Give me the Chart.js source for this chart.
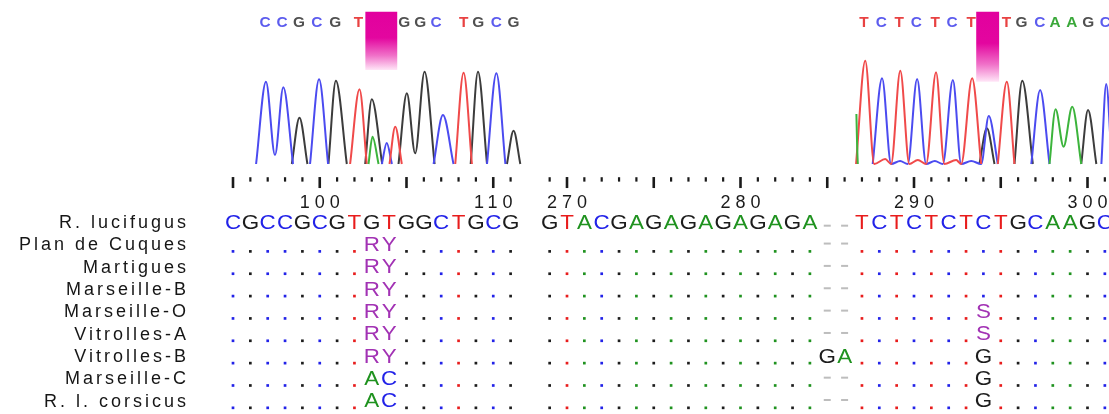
<!DOCTYPE html>
<html><head><meta charset="utf-8">
<script src="https://cdn.jsdelivr.net/npm/chart.js@4.4.1/dist/chart.umd.min.js"></script>
<style>html,body{margin:0;padding:0;background:#fff;overflow:hidden}canvas{display:block}</style>
</head><body>
<canvas id="c" width="1109" height="414"></canvas>
<script>
// ---------------- DATA ----------------
const rowNames = ['R. lucifugus','Plan de Cuques','Martigues','Marseille-B','Marseille-O','Vitrolles-A','Vitrolles-B','Marseille-C','R. l. corsicus'];

const leftStart = 95;
const leftRef = 'CGCCGCGTGTGGCTGCG';
const leftRows = [
  '........RY.......',
  '........RY.......',
  '........RY.......',
  '........RY.......',
  '........RY.......',
  '........RY.......',
  '........AC.......',
  '........AC.......'
];
const rightStart = 269;
const rightRef = 'GTACGAGAGAGAGAGA--TCTCTCTCTGCAAGC';
const rightRows = [
  '................--...............',
  '................--...............',
  '................--...............',
  '................--.......S.......',
  '................--.......S.......',
  '................GA.......G.......',
  '................--.......G.......',
  '................--.......G.......'
];
const leftRulerRange = [95, 111];
const rightRulerRange = [269, 301];
const leftRulerLabels = [100, 110];
const rightRulerLabels = [270, 280, 290, 300];

// chromatogram base calls (position, base)
const leftCalls = [[96.85,'C'],[97.83,'C'],[98.80,'G'],[99.83,'C'],[100.89,'G'],[102.23,'T'],[104.87,'G'],[105.79,'G'],[106.71,'C'],[108.29,'T'],[109.14,'G'],[110.18,'C'],[111.16,'G']];
const rightCalls = [[287.12,'T'],[288.11,'C'],[289.15,'T'],[290.13,'C'],[291.22,'T'],[292.20,'C'],[293.29,'T'],[295.33,'T'],[296.20,'G'],[297.25,'C'],[298.13,'A'],[299.09,'A'],[300.04,'G'],[301.03,'C']];

// chromatogram traces: [position, intensity]; null = break
const leftTraceC = [[96.33,0],[96.90,823],[97.42,90],[97.90,767],[98.46,0],[98.5,null],
  [99.44,0],[99.96,847],[100.48,0],[100.5,null],
  [103.58,0],[103.86,210],[104.16,0],[104.2,null],
  [106.56,0],[107.10,490],[107.71,0],[107.75,null],
  [109.64,0],[110.18,907],[110.70,0]];
const leftTraceG = [[98.39,0],[98.83,463],[99.29,0],[99.3,null],
  [100.50,0],[100.93,833],[101.56,0],[101.6,null],
  [102.62,0],[103.00,647],[103.60,0],[103.62,null],
  [104.54,0],[105.02,707],[105.50,107],[106.04,923],[106.62,0],[106.65,null],
  [108.70,0],[109.12,923],[109.64,0],[109.7,null],
  [110.79,0],[111.17,333],[111.56,0]];
const leftTraceT = [[101.75,0],[102.29,747],[102.71,0],[102.75,null],
  [104.02,0],[104.35,373],[104.73,0],[104.75,null],
  [107.81,0],[108.29,913],[108.77,0]];
const leftTraceA = [[102.81,0],[103.04,273],[103.39,0]];

const rightTraceT = [[286.66,0],[287.19,1033],[287.71,0],[288.34,50],[288.68,0],[289.21,933],[289.73,0],
  [290.22,40],[290.70,0],[291.27,917],[291.75,0],[292.43,40],[292.72,0],[293.35,857],[293.87,0],[293.9,null],
  [294.83,0],[295.35,823],[295.79,0]];
const rightTraceC = [[287.62,0],[288.16,857],[288.68,0],[289.20,30],[289.64,0],[290.18,850],[290.70,0],
  [291.20,30],[291.66,0],[292.24,840],[292.72,0],[293.30,30],[293.87,0],[294.31,480],[294.83,0],[294.9,null],
  [296.76,0],[297.27,740],[297.81,0],[297.9,null],
  [300.80,0],[301.08,800],[301.4,0]];
const rightTraceG = [[293.77,0],[294.20,357],[294.64,0],[294.7,null],
  [295.79,0],[296.24,833],[296.85,0],[296.9,null],
  [299.64,0],[300.03,540],[300.51,0]];
const rightTraceA = [[286.68,500],[286.72,200],[286.76,0],[286.8,null],
  [297.81,0],[298.16,547],[298.62,173],[299.12,573],[299.64,0]];

// highlighted heterozygous sites: [xFrom, xTo, yBottom, yTop]
const leftBox = [102.62, 104.48, 940, 1523];
const rightBox = [293.58, 294.92, 823, 1523];
const callLevel = 1410;

// ---------------- STYLE / LAYOUT ----------------
const W = 1109, H = 414, NAME_W = 200;
const COL = 17.35;
const AREA_W = W - NAME_W;
const xLmin = 95 - (233 - NAME_W) / COL;
const xRmin = 270 - (567 - NAME_W) / COL;
const ROW_PX = 22.35, ROW0_PX = 223;
const rowMin = -ROW0_PX / ROW_PX, rowMax = rowMin + H / ROW_PX;
const RULER_MAJOR_Y = -1.81, RULER_MINOR_Y = -1.95, RULER_LABEL_Y = -0.9;
const DOT_DY = 0.27, DASH_DY = -0.08, REF_DASH_DY = 0.12;
const STRETCH = 1.12;

const SANS = '"Liberation Sans", Arial, sans-serif';
const seqColor = {A:'#1f921f', C:'#2222e8', G:'#1c1c1c', T:'#e81c1c', R:'#a232b4', Y:'#a232b4', S:'#a232b4'};
const traceColor = {A:'#3cb43c', C:'#4b4bf0', G:'#3c3c3c', T:'#f04a4a'};
const callColor = {A:'#3aa83a', C:'#5c5cee', G:'#505050', T:'#e84242'};

const pts = arr => arr.map(([x, y]) => ({x, y}));

// dots / dashes / variant letters from alignment rows
const dotsL = [], dotsR = [], dashR = [], varL = [], varR = [];
leftRows.forEach((row, r) => [...row].forEach((ch, i) => {
  const x = leftStart + i, y = r + 1;
  if (ch === '.') dotsL.push({x, y: y + DOT_DY, b: leftRef[i]});
  else varL.push({x, y, b: ch});
}));
rightRows.forEach((row, r) => [...row].forEach((ch, i) => {
  const x = rightStart + i, y = r + 1;
  if (ch === '.') dotsR.push({x, y: y + DOT_DY, b: rightRef[i]});
  else if (ch === '-') dashR.push({x, y: y + DASH_DY});
  else varR.push({x, y, b: ch});
}));
[...rightRef].forEach((ch, i) => { if (ch === '-') dashR.push({x: rightStart + i, y: REF_DASH_DY}); });

function ruler(range) {
  const maj = [], min = [];
  for (let p = range[0]; p <= range[1]; p++) (p % 5 === 0 ? maj : min).push({x: p, y: p % 5 === 0 ? RULER_MAJOR_Y : RULER_MINOR_Y});
  return [maj, min];
}
const [rulLmaj, rulLmin] = ruler(leftRulerRange);
const [rulRmaj, rulRmin] = ruler(rightRulerRange);

function traceDs(data, base, xAxisID) {
  return {data: pts(data), xAxisID, yAxisID: 'ySig', showLine: true, borderColor: traceColor[base],
    borderWidth: 2, pointRadius: 0, cubicInterpolationMode: 'monotone', spanGaps: false, fill: false};
}
function boxDs(box, xAxisID) {
  const [x0, x1, yb, yt] = box;
  return {data: [{x: x0, y: yt}, {x: x1, y: yt}], xAxisID, yAxisID: 'ySig', showLine: true,
    borderWidth: 0, pointRadius: 0, fill: {value: yb}, order: 10,
    backgroundColor: (c) => {
      const ch = c.chart; if (!ch.chartArea) return '#e000a0';
      const s = ch.scales.ySig; const t = s.getPixelForValue(yt), b = s.getPixelForValue(yb);
      const g = ch.ctx.createLinearGradient(0, t, 0, b);
      g.addColorStop(0, '#e2009e'); g.addColorStop(0.45, '#e3069f'); g.addColorStop(0.75, '#f070c8'); g.addColorStop(1, '#ffe6f7');
      return g;
    }};
}
function tickDs(data, xAxisID, r, w) {
  return {data, xAxisID, yAxisID: 'yRow', pointStyle: 'line', rotation: 90, pointRadius: r,
    borderWidth: w, borderColor: '#1a1a1a', backgroundColor: '#1a1a1a'};
}
function dotDs(data, xAxisID) {
  return {data, xAxisID, yAxisID: 'yRow', pointStyle: 'rect', pointRadius: 1.9, borderWidth: 0,
    backgroundColor: c => seqColor[c.raw && c.raw.b] || '#000'};
}

function wideText(ctx, s, x, y, sx) {
  ctx.save(); ctx.translate(x, y); ctx.scale(sx, 1); ctx.fillText(s, 0, 0); ctx.restore();
}

const textPlugin = {
  id: 'seqText',
  beforeDraw(chart) { chart.ctx.letterSpacing = '3px'; },
  beforeDatasetsDraw(chart) { chart.ctx.letterSpacing = '0px'; },
  afterDatasetsDraw(chart) {
    const {ctx, scales} = chart;
    const {xL, xR, yRow, ySig} = scales;
    ctx.save();
    ctx.textAlign = 'center'; ctx.textBaseline = 'middle';
    // ruler numbers
    ctx.font = '18px ' + SANS; ctx.letterSpacing = '5px'; ctx.fillStyle = '#1a1a1a';
    const ly = yRow.getPixelForValue(RULER_LABEL_Y);
    leftRulerLabels.forEach(v => ctx.fillText(String(v), xL.getPixelForValue(v) + 2.5, ly));
    rightRulerLabels.forEach(v => ctx.fillText(String(v), xR.getPixelForValue(v) + 2.5, ly));
    ctx.letterSpacing = '0px';
    // reference + variant letters
    ctx.font = '20px ' + SANS;
    const y0 = yRow.getPixelForValue(0);
    [...leftRef].forEach((b, i) => { ctx.fillStyle = seqColor[b]; wideText(ctx, b, xL.getPixelForValue(leftStart + i), y0, STRETCH); });
    [...rightRef].forEach((b, i) => { if (b === '-') return; ctx.fillStyle = seqColor[b]; wideText(ctx, b, xR.getPixelForValue(rightStart + i), y0, STRETCH); });
    varL.forEach(p => { ctx.fillStyle = seqColor[p.b]; wideText(ctx, p.b, xL.getPixelForValue(p.x), yRow.getPixelForValue(p.y), STRETCH); });
    varR.forEach(p => { ctx.fillStyle = seqColor[p.b]; wideText(ctx, p.b, xR.getPixelForValue(p.x), yRow.getPixelForValue(p.y), STRETCH); });
    // chromatogram base calls
    ctx.font = 'bold 14px ' + SANS;
    const cy = ySig.getPixelForValue(callLevel);
    leftCalls.forEach(([x, b]) => { ctx.fillStyle = callColor[b]; wideText(ctx, b, xL.getPixelForValue(x), cy, 1.1); });
    rightCalls.forEach(([x, b]) => { ctx.fillStyle = callColor[b]; wideText(ctx, b, xR.getPixelForValue(x), cy, 1.1); });
    ctx.restore();
  }
};

new Chart(document.getElementById('c'), {
  type: 'scatter',
  data: {datasets: [
    boxDs(leftBox, 'xL'), boxDs(rightBox, 'xR'),
    traceDs(leftTraceA, 'A', 'xL'), traceDs(leftTraceT, 'T', 'xL'), traceDs(leftTraceC, 'C', 'xL'), traceDs(leftTraceG, 'G', 'xL'),
    traceDs(rightTraceA, 'A', 'xR'), traceDs(rightTraceT, 'T', 'xR'), traceDs(rightTraceC, 'C', 'xR'), traceDs(rightTraceG, 'G', 'xR'),
    tickDs(rulLmaj, 'xL', 5.5, 2.6), tickDs(rulLmin, 'xL', 2.2, 2.2),
    tickDs(rulRmaj, 'xR', 5.5, 2.6), tickDs(rulRmin, 'xR', 2.2, 2.2),
    dotDs(dotsL, 'xL'), dotDs(dotsR, 'xR'),
    {data: dashR, xAxisID: 'xR', yAxisID: 'yRow', pointStyle: 'line', pointRadius: 3.5, borderWidth: 2,
      borderColor: '#bdbdbd', backgroundColor: '#bdbdbd'}
  ]},
  options: {
    responsive: false, animation: false, events: [],
    layout: {padding: 0, autoPadding: false},
    plugins: {legend: {display: false}, tooltip: {enabled: false}},
    scales: {
      xL: {type: 'linear', display: false, min: xLmin, max: xLmin + AREA_W / COL},
      xR: {type: 'linear', display: false, min: xRmin, max: xRmin + AREA_W / COL},
      ySig: {type: 'linear', display: false, min: -2500, max: 1640},
      yRow: {type: 'linear', position: 'left', reverse: true, min: rowMin, max: rowMax,
        afterFit: s => { s.width = NAME_W; s.paddingTop = 0; s.paddingBottom = 0; },
        afterBuildTicks: s => { s.ticks = rowNames.map((_, i) => ({value: i})); },
        grid: {display: false, drawTicks: false}, border: {display: false},
        ticks: {autoSkip: false, padding: 11, color: '#161616', font: {family: SANS, size: 18},
          callback: v => rowNames[v] ?? ''}}
    }
  },
  plugins: [textPlugin]
});
</script>
</body></html>
